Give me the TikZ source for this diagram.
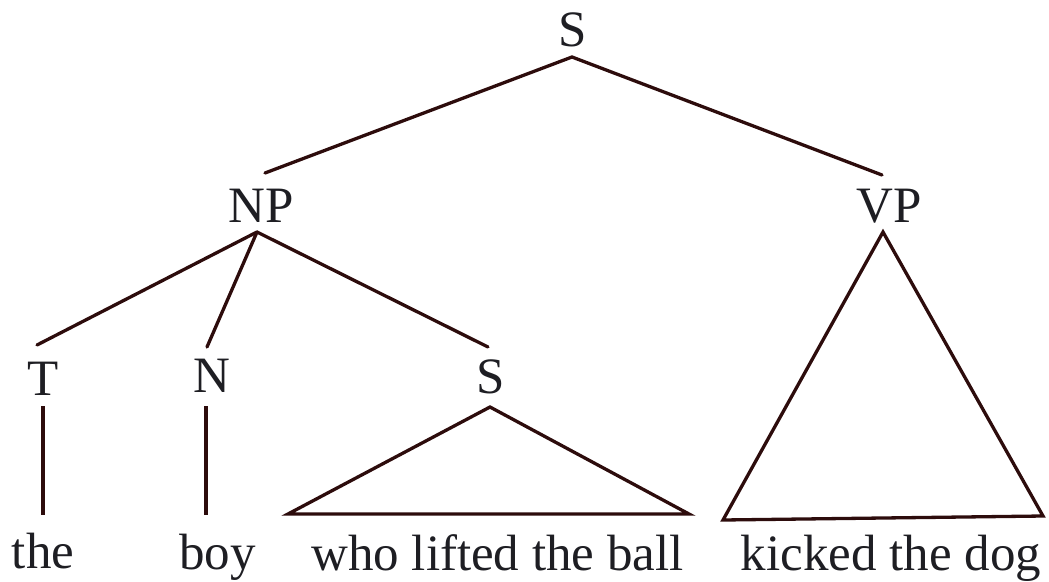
\documentclass[tikz,border=0pt]{standalone}
\usepackage{fontspec}
\setmainfont{Liberation Serif}
\definecolor{edge}{RGB}{45,12,12}
\definecolor{ink}{RGB}{30,30,35}
\begin{document}
\begin{tikzpicture}[x=1pt,y=-1pt,
  lab/.style={anchor=base,inner sep=0pt,outer sep=0pt,text=ink,font=\fontsize{51}{60}\selectfont},
  branch/.style={draw=edge,line width=3.3pt,line cap=round,line join=miter},
  stem/.style={draw=edge,line width=4pt,line cap=butt}]
\useasboundingbox (0,0) rectangle (1049,581);
\node[lab] (S0) at (572.5,46) {S};
\node[lab] (NP) at (261.5,222) {NP};
\node[lab] (VP) at (889,222) {VP};
\node[lab] (T) at (43.5,395) {T};
\node[lab] (N) at (212,392) {N};
\node[lab] (S1) at (490.5,393) {S};
\node[lab] (the) at (43,568) {the};
\node[lab] (boy) at (217.5,569) {boy};
\node[lab] (who) at (497.5,570) {who lifted the ball};
\node[lab] (kicked) at (891,570) {kicked the dog};
% S -> NP, VP
\draw[branch] ([shift={(3.5,-49)}]NP.base) -- ([shift={(-0.5,11)}]S0.base) -- ([shift={(-7,-47)}]VP.base);
% NP -> T, N, S
\draw[branch] ([shift={(-4.5,10)}]NP.base) -- ([shift={(-6.5,-50)}]T.base);
\draw[branch] ([shift={(-4.5,10)}]NP.base) -- ([shift={(-5,-45)}]N.base);
\draw[branch] ([shift={(-4.5,10)}]NP.base) -- ([shift={(-2.5,-46)}]S1.base);
% T, N -> words
\draw[stem] ([shift={(-0.5,11)}]T.base) -- ([shift={(0,-53)}]the.base);
\draw[stem] ([shift={(-6,14)}]N.base) -- ([shift={(-11.5,-54)}]boy.base);
% triangles
\draw[branch] ([shift={(-0.5,14)}]S1.base) -- ([shift={(-209.5,-56)}]who.base) -- ([shift={(191.5,-56)}]who.base) -- cycle;
\draw[branch] ([shift={(-6,10)}]VP.base) -- ([shift={(-168,-50)}]kicked.base) -- ([shift={(152,-54)}]kicked.base) -- cycle;
\end{tikzpicture}
\end{document}
